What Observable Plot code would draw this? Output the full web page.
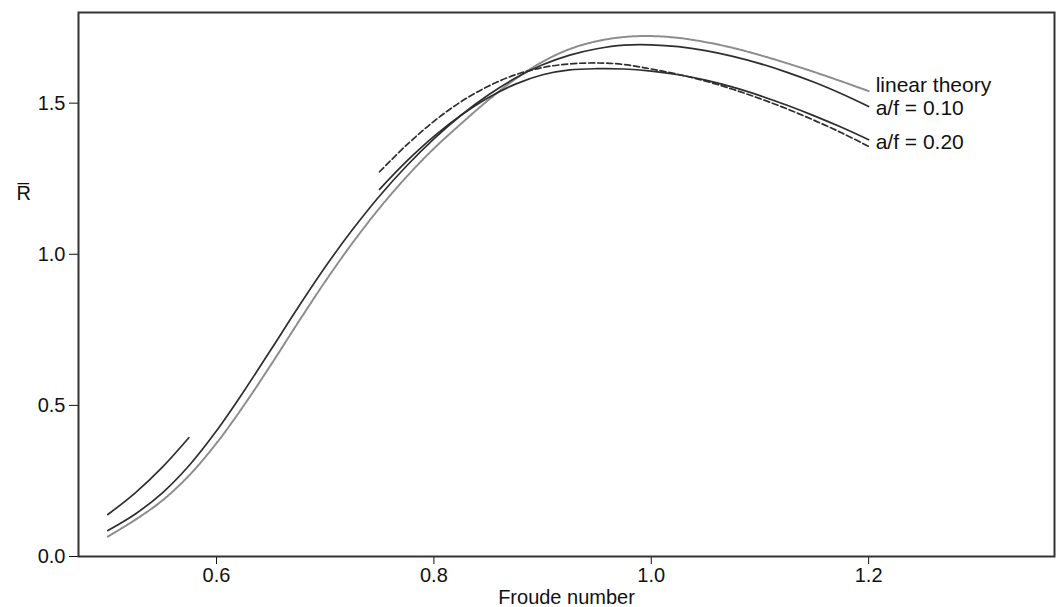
<!DOCTYPE html>
<html><head><meta charset="utf-8">
<script src="https://cdn.jsdelivr.net/npm/d3@7"></script>
<script src="https://cdn.jsdelivr.net/npm/@observablehq/plot@0.6"></script>
<style>body{margin:0;background:#fff}</style>
</head><body><div id="chart"></div>
<script>
// Froude numbers
const xFull = [0.5,0.525,0.55,0.575,0.6,0.625,0.65,0.675,0.7,0.725,0.75,0.775,0.8,0.825,0.85,0.875,0.9,0.925,0.95,0.975,1.0,1.025,1.05,1.075,1.1,1.125,1.15,1.175,1.2];
const linearTheory = [0.066,0.121,0.185,0.269,0.375,0.499,0.634,0.774,0.910,1.037,1.153,1.257,1.350,1.432,1.510,1.580,1.637,1.679,1.705,1.719,1.722,1.716,1.702,1.683,1.659,1.632,1.603,1.572,1.540];
const af010 = [0.086,0.140,0.210,0.302,0.416,0.546,0.684,0.824,0.958,1.081,1.193,1.293,1.382,1.460,1.527,1.583,1.627,1.659,1.680,1.692,1.693,1.687,1.674,1.655,1.631,1.602,1.569,1.531,1.489];
const xUpper = [0.75,0.775,0.8,0.825,0.85,0.875,0.9,0.925,0.95,0.975,1.0,1.025,1.05,1.075,1.1,1.125,1.15,1.175,1.2];
const af020Solid = [1.215,1.308,1.390,1.460,1.518,1.563,1.594,1.610,1.614,1.613,1.606,1.594,1.576,1.553,1.525,1.493,1.458,1.420,1.379];
const af020Dashed = [1.273,1.362,1.440,1.505,1.556,1.594,1.618,1.630,1.633,1.628,1.613,1.595,1.573,1.546,1.515,1.481,1.443,1.402,1.357];
const xLow = [0.5,0.525,0.55,0.5745];
const af020Low = [0.139,0.21,0.295,0.393];

const labelTexts = ["linear theory","a/f = 0.10","a/f = 0.20"];
const labelY = [1.559,1.482,1.37];
const labelX = 1.2;

const xTicks = [0.6,0.8,1.0,1.2];
const yTicks = [0.0,0.5,1.0,1.5];

const toRows = (xs, ys) => xs.map((x,i) => ({x, y: ys[i]}));

const dark = "#2e2e2e";
const chart = Plot.plot({
  width: 1056,
  height: 607,
  marginLeft: 78,
  marginRight: 2,
  marginTop: 12,
  marginBottom: 51,
  style: {fontFamily: "'Liberation Sans', Arial, Helvetica, sans-serif", fontSize: "20px", color: "#111", background: "#fff"},
  x: {domain: [0.473, 1.371], ticks: xTicks, tickFormat: d3.format(".1f"), tickSize: 8, tickPadding: 3, label: "Froude number", labelAnchor: "center", labelArrow: "none", labelOffset: 47},
  y: {domain: [0, 1.8], ticks: yTicks, tickFormat: d3.format(".1f"), tickSize: 9, tickPadding: 4, label: null},
  marks: [
    Plot.frame({stroke: "#333", strokeWidth: 2}),
    Plot.line(toRows(xFull, linearTheory), {x: "x", y: "y", curve: "catmull-rom", stroke: "#8c8c8c", strokeWidth: 2, strokeDasharray: "1.3,1.2"}),
    Plot.line(toRows(xFull, af010), {x: "x", y: "y", curve: "catmull-rom", stroke: dark, strokeWidth: 1.7}),
    Plot.line(toRows(xUpper, af020Solid), {x: "x", y: "y", curve: "catmull-rom", stroke: dark, strokeWidth: 1.7}),
    Plot.line(toRows(xUpper, af020Dashed), {x: "x", y: "y", curve: "catmull-rom", stroke: dark, strokeWidth: 1.7, strokeDasharray: "6,3"}),
    Plot.line(toRows(xLow, af020Low), {x: "x", y: "y", curve: "catmull-rom", stroke: dark, strokeWidth: 1.7}),
    Plot.text(labelTexts, {x: () => labelX, y: (d,i) => labelY[i], text: d => d, textAnchor: "start", dx: 7, fontSize: 21, fill: "#111"}),
    Plot.text(["R\u0305"], {frameAnchor: "left", y: () => 1.2, text: d => d, dx: -62, textAnchor: "start", fontSize: 20, fill: "#111"})
  ]
});
document.getElementById("chart").appendChild(chart);
</script>
</body></html>
